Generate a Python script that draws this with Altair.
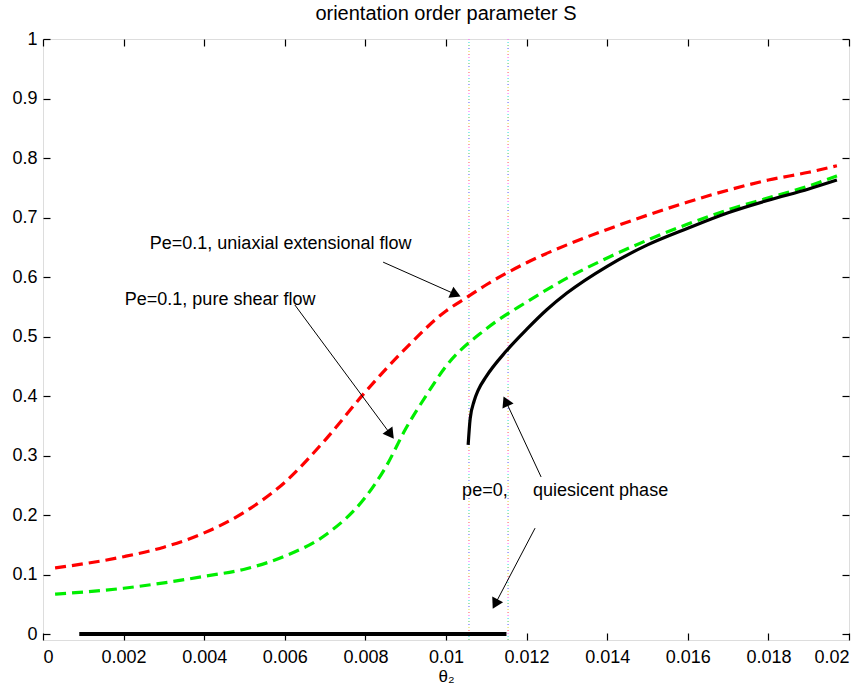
import altair as alt
import pandas as pd
import numpy as np

# ---- data ----
red_x = [0.0003, 0.002, 0.003, 0.004, 0.005, 0.006, 0.007, 0.008, 0.009, 0.010, 0.0105,
         0.011, 0.012, 0.013, 0.014, 0.015, 0.016, 0.017, 0.018, 0.019, 0.0197]
red_y = [0.111, 0.130, 0.146, 0.170, 0.205, 0.255, 0.326, 0.407, 0.480, 0.543, 0.565,
         0.587, 0.624, 0.654, 0.680, 0.704, 0.726, 0.746, 0.763, 0.776, 0.787]

green_x = [0.0003, 0.002, 0.003, 0.004, 0.005, 0.006, 0.007, 0.008, 0.0085, 0.009, 0.0095,
           0.010, 0.011, 0.012, 0.013, 0.014, 0.015, 0.016, 0.017, 0.018, 0.019, 0.0197]
green_y = [0.067, 0.077, 0.086, 0.097, 0.109, 0.131, 0.166, 0.230, 0.280, 0.345, 0.400,
           0.450, 0.513, 0.558, 0.598, 0.632, 0.662, 0.689, 0.713, 0.733, 0.753, 0.770]

black_x = [0.01055, 0.0106, 0.0107, 0.0108, 0.011, 0.0115, 0.012, 0.0125, 0.013, 0.014,
           0.015, 0.016, 0.017, 0.018, 0.019, 0.0197]
black_y = [0.318, 0.362, 0.392, 0.410, 0.433, 0.476, 0.512, 0.545, 0.573, 0.618,
           0.654, 0.682, 0.708, 0.729, 0.748, 0.763]

zero_x = [0.0009, 0.0115]
zero_y = [0.0, 0.0]

vlines_x = [0.01057, 0.01154]

x_ticks = [0, 0.002, 0.004, 0.006, 0.008, 0.01, 0.012, 0.014, 0.016, 0.018, 0.02]
y_ticks = [0, 0.1, 0.2, 0.3, 0.4, 0.5, 0.6, 0.7, 0.8, 0.9, 1]

labels_text = ["Pe=0.1, uniaxial extensional flow", "Pe=0.1, pure shear flow",
               "pe=0,", "quiesicent phase"]
labels_x = [0.00265, 0.00203, 0.01040, 0.01216]
labels_y = [0.655, 0.561, 0.240, 0.240]

arrow_x1 = [0.00844, 0.00625, 0.01236, 0.01221]
arrow_y1 = [0.625, 0.553, 0.264, 0.178]
arrow_x2 = [0.0104, 0.00873, 0.01141, 0.01114]
arrow_y2 = [0.566, 0.326, 0.402, 0.040]

# ---- layout ----
W, H = 806, 601
XD = [0, 0.02]
YD = [-0.01, 1]
FONT = "Liberation Sans"
TL = 7

xs = alt.Scale(domain=XD, nice=False, zero=False)
ys = alt.Scale(domain=YD, nice=False, zero=False)
px_per_x = W / (XD[1] - XD[0])
px_per_y = H / (YD[1] - YD[0])

def curve(xv, yv):
    return pd.DataFrame({"x": xv, "y": yv})

common_tick = dict(ticks=True, tickSize=TL, tickColor="black", tickWidth=1.2,
                   offset=-TL, domain=False, grid=False, zindex=1)

x_axis = alt.Axis(values=x_ticks, orient="bottom", **common_tick,
                  labelFont=FONT, labelFontSize=18, labelColor="black",
                  labelPadding=8, title="θ₂", titleFont=FONT, titleFontSize=17,
                  titleFontWeight="normal", titleColor="black", titlePadding=2,
                  labelExpr="format(datum.value, '~g')")
y_axis = alt.Axis(values=y_ticks, orient="left", **common_tick,
                  labelFont=FONT, labelFontSize=18, labelColor="black",
                  labelPadding=6, title=None,
                  labelExpr="format(datum.value, '~g')")
x_axis_top = alt.Axis(values=x_ticks, orient="top", **common_tick,
                      labels=False, title=None)
y_axis_right = alt.Axis(values=y_ticks, orient="right", **common_tick,
                        labels=False, title=None)

dummy = pd.DataFrame({"x": [0.0], "y": [0.0]})
axes_main = alt.Chart(dummy).mark_point(opacity=0).encode(
    x=alt.X("x:Q", scale=xs, axis=x_axis),
    y=alt.Y("y:Q", scale=ys, axis=y_axis),
)
axes_box = alt.Chart(dummy).mark_point(opacity=0).encode(
    x=alt.X("x:Q", scale=xs, axis=x_axis_top),
    y=alt.Y("y:Q", scale=ys, axis=y_axis_right),
)

def line(df, color, dash=None, width=3.2):
    kw = dict(color=color, strokeWidth=width, clip=True, interpolate="monotone")
    if dash:
        kw["strokeDash"] = dash
    return alt.Chart(df).mark_line(**kw).encode(
        x=alt.X("x:Q", scale=xs, axis=None), y=alt.Y("y:Q", scale=ys, axis=None))

red_l = line(curve(red_x, red_y), "#ff0000", [11, 6])
green_l = line(curve(green_x, green_y), "#00ee00", [11, 6])
black_l = line(curve(black_x, black_y), "black")
zero_l = line(curve(zero_x, zero_y), "black", width=4)

vl = pd.DataFrame({"x": vlines_x})
vcols = ["#ff55ff", "#22dddd", "#55cc55", "#5555ff", "#dddd33", "#ff5555"]
vlayers = []
for i, c in enumerate(vcols):
    vlayers.append(alt.Chart(vl).mark_rule(color=c, strokeWidth=1,
                                           strokeDash=[1, 17], strokeDashOffset=-3 * i).encode(
        x=alt.X("x:Q", scale=xs, axis=None), y=alt.value(0), y2=alt.value(H)))

txt = pd.DataFrame({"t": labels_text, "x": labels_x, "y": labels_y})
text_l = alt.Chart(txt).mark_text(align="left", baseline="middle", font=FONT,
                                  fontSize=18, color="black").encode(
    x=alt.X("x:Q", scale=xs, axis=None), y=alt.Y("y:Q", scale=ys, axis=None), text="t:N")

arr = pd.DataFrame({"x1": arrow_x1, "y1": arrow_y1, "x2": arrow_x2, "y2": arrow_y2})
dxp = (arr["x2"] - arr["x1"]) * px_per_x
dyp = -(arr["y2"] - arr["y1"]) * px_per_y
L = np.sqrt(dxp ** 2 + dyp ** 2)
arr["angle"] = (np.degrees(np.arctan2(dxp, -dyp)) + 360) % 360
back = 7.0
arr["hx"] = arr["x2"] - (dxp / L * back) / px_per_x
arr["hy"] = arr["y2"] + (dyp / L * back) / px_per_y
arr["sx"] = arr["x2"] - (dxp / L * 10) / px_per_x
arr["sy"] = arr["y2"] + (dyp / L * 10) / px_per_y

shaft = alt.Chart(arr).mark_rule(color="black", strokeWidth=1).encode(
    x=alt.X("x1:Q", scale=xs, axis=None), y=alt.Y("y1:Q", scale=ys, axis=None),
    x2="sx:Q", y2="sy:Q")
heads = alt.Chart(arr).mark_point(shape="triangle-up", filled=True, color="black",
                                  opacity=1, size=150).encode(
    x=alt.X("hx:Q", scale=xs, axis=None), y=alt.Y("hy:Q", scale=ys, axis=None),
    angle=alt.Angle("angle:Q", scale=None))

chart = alt.layer(axes_main, axes_box, *vlayers, red_l, green_l, black_l, zero_l,
                  shaft, heads, text_l).resolve_axis(
    x="independent", y="independent").properties(
    width=W, height=H,
    title=alt.TitleParams("orientation order parameter S", font=FONT, fontSize=20,
                          fontWeight="normal", color="black", offset=6, anchor="middle"),
    autosize=alt.AutoSizeParams(type="none"),
    padding={"left": 43, "top": 39, "right": 19, "bottom": 55},
).configure_view(stroke="black", strokeWidth=1.5).configure(background="white")

chart.save("out.html", embed_options={"renderer": "svg", "actions": False})
